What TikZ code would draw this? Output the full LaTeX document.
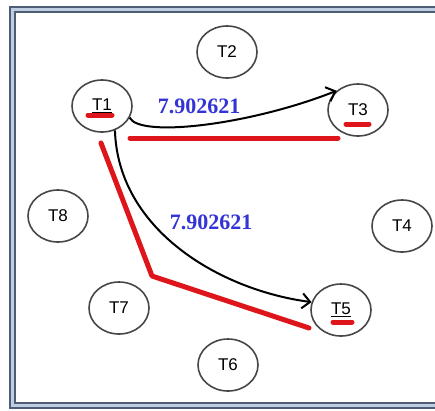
\documentclass[tikz,border=0pt]{standalone}
\usepackage{fontspec}
\setmainfont{Liberation Sans}
\newfontfamily\weightfont{Liberation Serif}
\usetikzlibrary{shapes.geometric,arrows.meta,calc}
\definecolor{framegray}{RGB}{78,92,116}
\definecolor{framefill}{RGB}{190,205,225}
\definecolor{weightblue}{RGB}{52,52,214}
\definecolor{pathred}{RGB}{222,22,28}
\begin{document}
\begin{tikzpicture}[x=1pt,y=-1pt,
    task/.style={ellipse,draw=black!72,line width=1.6pt,minimum width=60pt,
      minimum height=52pt,inner sep=0pt,font=\fontsize{17}{19}\selectfont},
    weight/.style={text=weightblue,font=\weightfont\bfseries\fontsize{22}{24}\selectfont},
    redpath/.style={draw=pathred,line width=5pt,line cap=round}]
  \useasboundingbox (0,0) rectangle (435,410);
  \clip (0,0) rectangle (435,410);
  \draw[framegray,fill=framefill,line width=1.8pt] (10,7) rectangle (450,408);
  \draw[framegray,fill=white,line width=1.8pt] (15,12) rectangle (450,403);
  \draw
    (102,106) node[task] (1){\underline{T1}}
    (227,52) node[task] (2){T2}
    (358,110) node[task] (3){T3}
    (402,226) node[task] (4){T4}
    (341,310) node[task] (5){\underline{T5}}
    (228,365) node[task] (6){T6}
    (119,308) node[task] (7){T7}
    (58,216) node[task] (8){T8};
  \node[weight] (w13) at (199,106) {7.902621};
  \node[weight] (w15) at (211,222) {7.902621};
  \begin{scope}[line width=2pt,-{Straight Barb[length=8pt,width=15pt]}]
    \draw (1.-23) .. controls (140,138) and (250,125) .. (3.138);
    \draw (1.-62) .. controls (118,230) and (220,290) .. (5.165);
  \end{scope}
  \coordinate (bend) at (152,276);
  \draw[redpath] (130,138) -- (338,138);
  \draw[redpath,line join=round] (101,143) -- (bend) -- (309,328);
  \draw[redpath] ($(1)+(-14,9)$) -- ($(1)+(10,9)$);
  \draw[redpath] ($(3)+(-12,14)$) -- ($(3)+(11,14)$);
  \draw[redpath] ($(5)+(-8,12)$) -- ($(5)+(11,12)$);
\end{tikzpicture}
\end{document}
